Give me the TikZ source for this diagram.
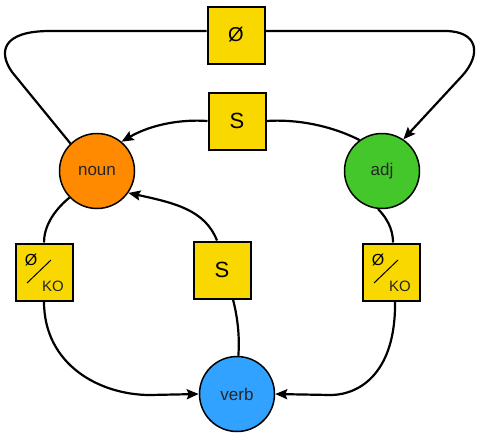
\documentclass[tikz,border=0pt]{standalone}
\usepackage{fontspec}
\setmainfont{Liberation Sans}
\usetikzlibrary{arrows.meta}
\definecolor{boxy}{HTML}{F9D800}
\definecolor{nouno}{HTML}{FF8A00}
\definecolor{adjg}{HTML}{44C72A}
\definecolor{verbb}{HTML}{31A2FF}
\begin{document}
\begin{tikzpicture}[x=1pt,y=-1pt,
  state/.style={circle,draw=black,line width=1.5pt,minimum size=75pt,inner sep=0pt,font=\fontsize{17}{19}\selectfont,text=black!85},
  labbox/.style={rectangle,draw=black,fill=boxy,line width=2pt,minimum width=57pt,minimum height=57pt,inner sep=0pt,font=\fontsize{22}{24}\selectfont},
  edge/.style={line width=2.2pt},
  arr/.style={edge,-{Stealth[length=12pt,width=10pt,inset=2pt]}},
  small/.style={inner sep=0pt,font=\fontsize{16}{18}\selectfont},
  tiny/.style={inner sep=0pt,font=\fontsize{15}{17}\selectfont,text=black!85}]
\useasboundingbox (0,0) rectangle (478,439);
\fill[white] (0,0) rectangle (478,439);
\node[state,fill=nouno] (noun) at (97,171) {noun};
\node[state,fill=adjg] (adj) at (382,171) {adj};
\node[state,fill=verbb] (verb) at (237,394) {verb};
\node[labbox,font=\fontsize{20}{22}\selectfont] (bO) at (236,35) {Ø};
\node[labbox] (bS1) at (237,121) {S};
\node[labbox] (bS2) at (222,270) {S};
\node[labbox] (bL) at (44,272) {};
\node[labbox] (bR) at (391,272) {};
% Ø/KO contents
\node[small] (bLo) at ([shift={(-13,-12)}]bL.center) {Ø};
\node[tiny] (bLk) at ([shift={(9,14)}]bL.center) {KO};
\draw[line width=1pt] ([shift={(-17,11)}]bL.center) -- ([shift={(7,-12)}]bL.center);
\node[small] (bRo) at ([shift={(-13,-12)}]bR.center) {Ø};
\node[tiny] (bRk) at ([shift={(9,14)}]bR.center) {KO};
\draw[line width=1pt] ([shift={(-17,11)}]bR.center) -- ([shift={(7,-12)}]bR.center);
% edges
\draw[edge] (noun.134) -- (12,72) .. controls (-2,52) and (2,31) .. (50,31) -- (bO.west |- 0,31);
\draw[arr] (bO.east |- 0,31) -- (445,31) .. controls (478,31) and (482,54) .. (462,76) -- (adj.56);
\draw[edge] (adj.126) .. controls (330,125) and (295,119) .. (bS1.east);
\draw[arr] (bS1.west) .. controls (180,119) and (150,125) .. (noun.50);
\draw[edge] (verb.88) .. controls (240,335) and (237,315) .. ([xshift=11pt]bS2.south);
\draw[arr] ([xshift=-5pt]bS2.north) .. controls (205,210) and (175,203) .. (noun.-35);
\draw[edge] (noun.224) .. controls (52,212) and (44,228) .. (bL.north);
\draw[arr] (bL.south) .. controls (44,365) and (100,395) .. (150,395) -- (verb.west);
\draw[edge] (adj.264) .. controls (391,222) and (393,235) .. ([xshift=2pt]bR.north);
\draw[arr] ([xshift=4pt]bR.south) .. controls (396,370) and (362,395) .. (330,395) -- (verb.east);
\end{tikzpicture}
\end{document}
